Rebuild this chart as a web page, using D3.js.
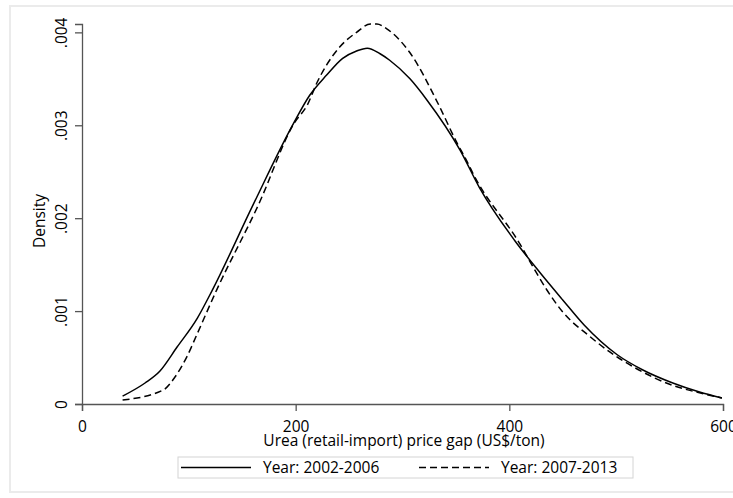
<!DOCTYPE html>
<html><head><meta charset="utf-8">
<script src="https://cdn.jsdelivr.net/npm/d3@7"></script>
<style>body{margin:0;background:#fff}svg{display:block}text{font-family:"Open Sans",sans-serif;fill:#000}</style>
</head><body><svg id="c" width="733" height="498"></svg>
<script>
const xTicks = [0, 200, 400, 600];
const yTicks = [0, 0.001, 0.002, 0.003, 0.004];
const yTickLabels = ["0", ".001", ".002", ".003", ".004"];
const seriesNames = ["Year: 2002-2006", "Year: 2007-2013"];
const xTitle = "Urea (retail-import) price gap (US$/ton)";
const yTitle = "Density";

const gapA = [38, 59, 73, 89, 108, 122, 160, 198, 213, 229, 244, 257, 267, 279, 288, 307, 323, 354, 372, 405, 429, 450, 470, 501, 525, 553, 578, 599];
const densA = [0.000085, 0.000226, 0.000355, 0.000613, 0.000925, 0.001226, 0.00214, 0.00302, 0.00332, 0.00354, 0.00372, 0.0038, 0.00383, 0.00377, 0.0037, 0.0035, 0.00327, 0.00273, 0.00233, 0.00176, 0.00141, 0.00112, 0.00085, 0.00053, 0.000366, 0.000226, 0.000129, 0.000065];
const gapB = [38, 76, 87, 98, 108, 126, 165, 199, 211, 220, 229, 241, 257, 270, 276, 285, 307, 333, 351, 360, 366, 410, 422, 435, 450, 475, 494, 516, 553, 578, 599];
const densB = [0.000043, 0.00015, 0.00029, 0.000505, 0.00076, 0.001226, 0.00214, 0.00303, 0.00322, 0.00346, 0.00365, 0.00384, 0.004, 0.00409, 0.00409, 0.00404, 0.00378, 0.00324, 0.00281, 0.00262, 0.00248, 0.00172, 0.00148, 0.00123, 0.00099, 0.00073, 0.00056, 0.0004, 0.0002, 0.00012, 0.000065];

const FS = "15.5px";
const svg = d3.select("#c");
svg.append("rect").attr("x", 10).attr("y", 6).attr("width", 740).attr("height", 486)
  .attr("fill", "none").attr("stroke", "#ebebeb").attr("stroke-width", 2);

const x = d3.scaleLinear().domain([0, 600]).range([82, 723]);
const yMax = d3.max(densA.concat(densB));
const y = d3.scaleLinear().domain([0, yMax]).range([404, 24]);

const axisColor = "#555";
const gx = svg.append("g").attr("transform", "translate(0,404)")
  .call(d3.axisBottom(x).tickValues(xTicks).tickSize(7).tickPadding(10).tickFormat(d3.format("d")));
const gy = svg.append("g").attr("transform", "translate(82,0)")
  .call(d3.axisLeft(y).tickValues(yTicks).tickSize(7).tickFormat((d, i) => yTickLabels[i]));
[gx, gy].forEach(g => {
  g.select(".domain").attr("stroke", axisColor).attr("stroke-width", 1.3);
  g.selectAll(".tick line").attr("stroke", axisColor).attr("stroke-width", 1.3);
  g.selectAll("text").style("font-family", '"Open Sans",sans-serif').style("font-size", FS).attr("fill", "#000");
});
gy.selectAll(".tick text").attr("x", 0).attr("dy", 0).attr("text-anchor", "middle")
  .attr("transform", "translate(-15,0) rotate(-90)");

svg.append("text").attr("x", 404).attr("y", 446).attr("text-anchor", "middle")
  .style("font-size", FS).text(xTitle);
svg.append("text").attr("transform", "translate(45,221) rotate(-90)").attr("text-anchor", "middle")
  .style("font-size", FS).text(yTitle);

const line = d3.line().x(d => x(d[0])).y(d => y(d[1])).curve(d3.curveMonotoneX);
const sA = gapA.map((g, i) => [g, densA[i]]);
const sB = gapB.map((g, i) => [g, densB[i]]);
svg.append("path").datum(sA).attr("d", line).attr("fill", "none").attr("stroke", "#000").attr("stroke-width", 1.5);
svg.append("path").datum(sB).attr("d", line).attr("fill", "none").attr("stroke", "#000").attr("stroke-width", 1.5).attr("stroke-dasharray", "7,4");

const lg = svg.append("g");
lg.append("rect").attr("x", 178).attr("y", 457).attr("width", 455).attr("height", 21)
  .attr("fill", "#fff").attr("stroke", "#d4d4d4").attr("stroke-width", 1);
const keys = [{x1: 181, x2: 251, tx: 263, dash: null}, {x1: 419, x2: 489, tx: 501, dash: "7,4"}];
keys.forEach((k, i) => {
  const l = lg.append("line").attr("x1", k.x1).attr("x2", k.x2).attr("y1", 467.5).attr("y2", 467.5)
    .attr("stroke", "#000").attr("stroke-width", 1.5);
  if (k.dash) l.attr("stroke-dasharray", k.dash);
  lg.append("text").attr("x", k.tx).attr("y", 473).style("font-size", FS).text(seriesNames[i]);
});
</script></body></html>
